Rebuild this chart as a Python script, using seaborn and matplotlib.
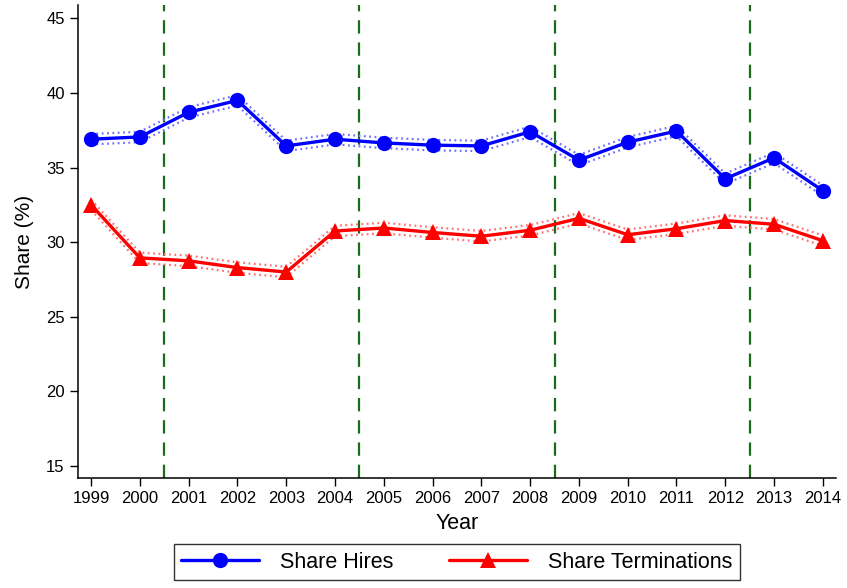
from matplotlib import pyplot as plt
import seaborn as sns
import pandas as pd

years = list(range(1999, 2015))
share_hires = [36.9, 37.05, 38.7, 39.5, 36.45, 36.9, 36.65, 36.5, 36.45, 37.4,
               35.5, 36.7, 37.45, 34.25, 35.65, 33.45]
share_terminations = [32.5, 28.95, 28.75, 28.3, 28.0, 30.75, 30.95, 30.65, 30.4, 30.8,
                      31.6, 30.5, 30.9, 31.45, 31.2, 30.1]
ci_hires = [0.35] * 16
ci_terminations = [0.35] * 16
break_years = [2000.5, 2004.5, 2008.5, 2012.5]

df = pd.DataFrame({
    "Year": years * 2,
    "Share": share_hires + share_terminations,
    "Series": ["Share Hires"] * 16 + ["Share Terminations"] * 16,
})

sns.set_style("ticks")
plt.rcParams['font.family'] = ['Liberation Sans', 'DejaVu Sans']
for k in ["text.color", "axes.labelcolor", "xtick.color", "ytick.color"]:
    plt.rcParams[k] = "black"

fig = plt.figure(figsize=(8.47, 5.88), dpi=100)
ax = fig.add_axes([0.092, 0.187, 0.895, 0.804])

# confidence bands as dotted lines
for vals, ci, col in [(share_hires, ci_hires, "#6f6fff"), (share_terminations, ci_terminations, "#ff7070")]:
    lo = [v - c for v, c in zip(vals, ci)]
    hi = [v + c for v, c in zip(vals, ci)]
    sns.lineplot(x=years, y=lo, ax=ax, color=col, linestyle=(0, (0.8, 1.6)), linewidth=1.6, legend=False)
    sns.lineplot(x=years, y=hi, ax=ax, color=col, linestyle=(0, (0.8, 1.6)), linewidth=1.6, legend=False)

sns.lineplot(data=df, x="Year", y="Share", hue="Series", style="Series",
             palette={"Share Hires": "#0000ff", "Share Terminations": "#ff0000"},
             markers={"Share Hires": "o", "Share Terminations": "^"},
             dashes=False, markersize=11, markeredgewidth=0, linewidth=2.4, ax=ax)

for b in break_years:
    ax.axvline(b, color="#1a6b1a", linestyle=(0, (6, 4)), linewidth=1.6, zorder=0)

ax.set_xlim(1998.73, 2014.27)
ax.set_ylim(14.2, 45.87)
ax.set_xticks(years)
ax.set_xticklabels([str(y) for y in years], fontsize=12)
ax.set_yticks([15, 20, 25, 30, 35, 40, 45])
ax.set_yticklabels(["15", "20", "25", "30", "35", "40", "45"], fontsize=12)
ax.tick_params(axis="both", length=6, width=1, color="black")
ax.set_xlabel("Year", fontsize=15.5, labelpad=5)
ax.set_ylabel("Share (%)", fontsize=15, labelpad=9)
sns.despine(ax=ax)
for s in ["left", "bottom"]:
    ax.spines[s].set_color("black")
    ax.spines[s].set_linewidth(1.1)

handles, labels = ax.get_legend_handles_labels()
leg = ax.legend(handles, labels, loc="upper center", bbox_to_anchor=(0.5, -0.14),
                ncol=2, fontsize=15.5, frameon=True, fancybox=False,
                handlelength=3.6, columnspacing=2.6, borderpad=0.35, borderaxespad=0,
                handletextpad=1.0, markerscale=1.0)
leg.get_frame().set_edgecolor("black")
leg.get_frame().set_linewidth(1.0)

fig.savefig("out.png", dpi=100)
